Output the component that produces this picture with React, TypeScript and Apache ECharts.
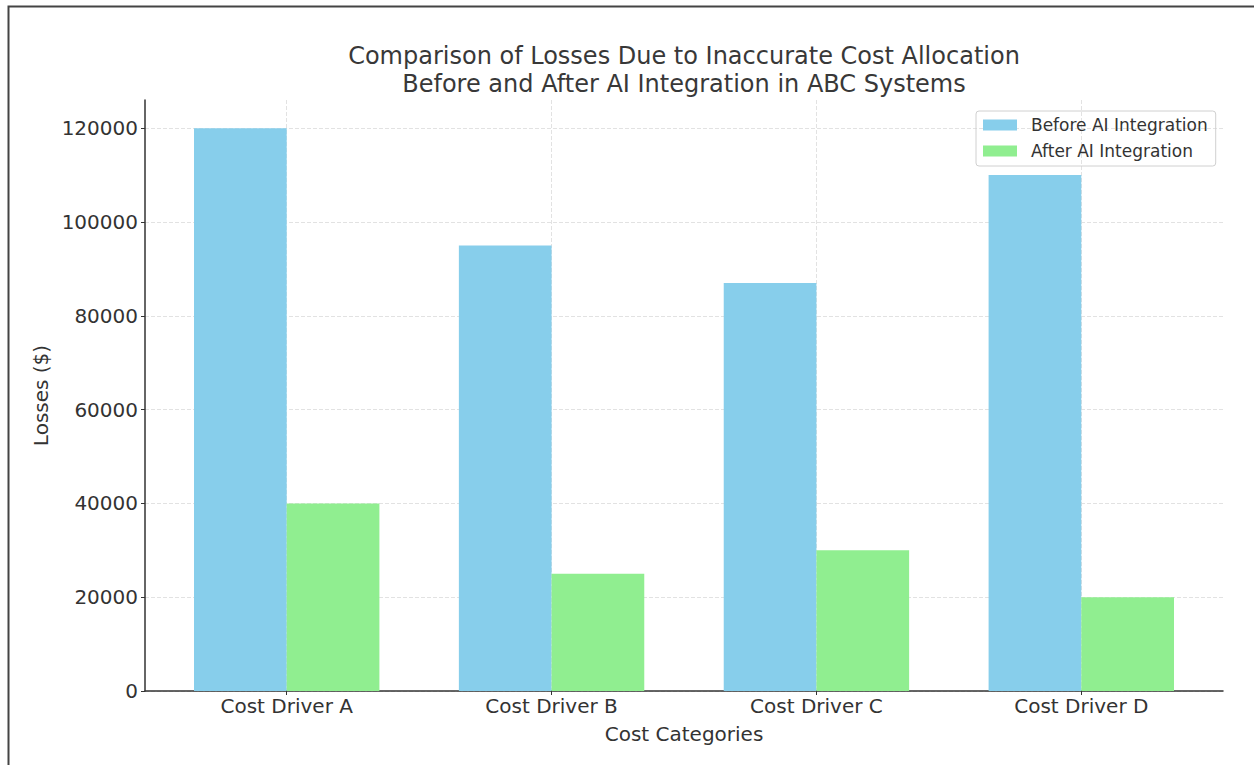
import React, { useEffect, useRef } from "react";
import * as echarts from "echarts";

const categories = ["Cost Driver A", "Cost Driver B", "Cost Driver C", "Cost Driver D"];
const beforeAI = [120000, 95000, 87000, 110000];
const afterAI = [40000, 25000, 30000, 20000];
const yTicks = [0, 20000, 40000, 60000, 80000, 100000, 120000];
const seriesNames = ["Before AI Integration", "After AI Integration"];
const titleLines = [
  "Comparison of Losses Due to Inaccurate Cost Allocation",
  "Before and After AI Integration in ABC Systems",
];

export default function App() {
  const ref = useRef<HTMLDivElement>(null);
  useEffect(() => {
    document.body.style.margin = "0";
    const chart = echarts.init(ref.current!, null, { renderer: "svg" });
    const font = "DejaVu Sans";
    const catIdx = categories.map((_, i) => i);
    chart.setOption({
      animation: false,
      backgroundColor: "#fff",
      textStyle: { fontFamily: font },
      title: {
        text: titleLines.join("\n"),
        left: 679,
        top: 37,
        textAlign: "center",
        textStyle: { fontFamily: font, fontSize: 24, fontWeight: "normal", color: "#383838", lineHeight: 28 },
      },
      legend: {
        orient: "vertical",
        left: 976,
        top: 111,
        padding: [4, 8, 5, 7],
        itemGap: 6,
        itemWidth: 34,
        itemHeight: 11,
        icon: "rect",
        borderColor: "#d0d0d0",
        borderWidth: 1,
        borderRadius: 3,
        textStyle: { fontFamily: font, fontSize: 17, color: "#333", lineHeight: 20, padding: [0, 0, 0, 9] },
        data: seriesNames,
      },
      grid: { left: 145, right: 31, top: 100, bottom: 74 },
      xAxis: {
        type: "value",
        min: -0.535,
        max: 3.535,
        name: "Cost Categories",
        nameLocation: "middle",
        nameGap: 33,
        nameTextStyle: { fontFamily: font, fontSize: 20, color: "#333" },
        axisLine: { show: true, onZero: false, lineStyle: { color: "#333", width: 1.5 } },
        axisTick: { show: true, length: 4, customValues: catIdx, lineStyle: { color: "#333" } },
        axisLabel: {
          customValues: catIdx,
          fontSize: 20,
          color: "#333",
          margin: 5,
          formatter: (v: number) => categories[Math.round(v)] ?? "",
        },
        splitLine: { show: true, lineStyle: { color: "#e2e2e2", type: "dashed", width: 1 } },
      },
      yAxis: {
        type: "value",
        min: 0,
        max: 126000,
        interval: 20000,
        name: "Losses ($)",
        nameLocation: "middle",
        nameGap: 92,
        nameTextStyle: { fontFamily: font, fontSize: 20, color: "#333" },
        axisLine: { show: true, onZero: false, lineStyle: { color: "#333", width: 1.5 } },
        axisTick: { show: true, length: 4, customValues: yTicks, lineStyle: { color: "#333" } },
        axisLabel: {
          customValues: yTicks,
          fontSize: 20,
          color: "#333",
          margin: 7,
          formatter: (v: number) => String(v),
        },
        splitLine: { show: true, lineStyle: { color: "#e2e2e2", type: "dashed", width: 1 } },
      },
      series: [
        {
          name: seriesNames[0],
          type: "bar",
          barWidth: 92.7,
          barGap: "0%",
          itemStyle: { color: "#87CEEB" },
          data: beforeAI.map((v, i) => [i, v]),
        },
        {
          name: seriesNames[1],
          type: "bar",
          barWidth: 92.7,
          barGap: "0%",
          itemStyle: { color: "#90EE90" },
          data: afterAI.map((v, i) => [i, v]),
        },
      ],
      graphic: [
        {
          type: "rect",
          left: 6,
          top: 4,
          shape: { x: 0, y: 0, width: 1400, height: 900 },
          style: { fill: "none", stroke: "#444", lineWidth: 2 },
          silent: true,
        },
      ],
    });
    return () => chart.dispose();
  }, []);
  return <div ref={ref} style={{ width: 1254, height: 765 }} />;
}
